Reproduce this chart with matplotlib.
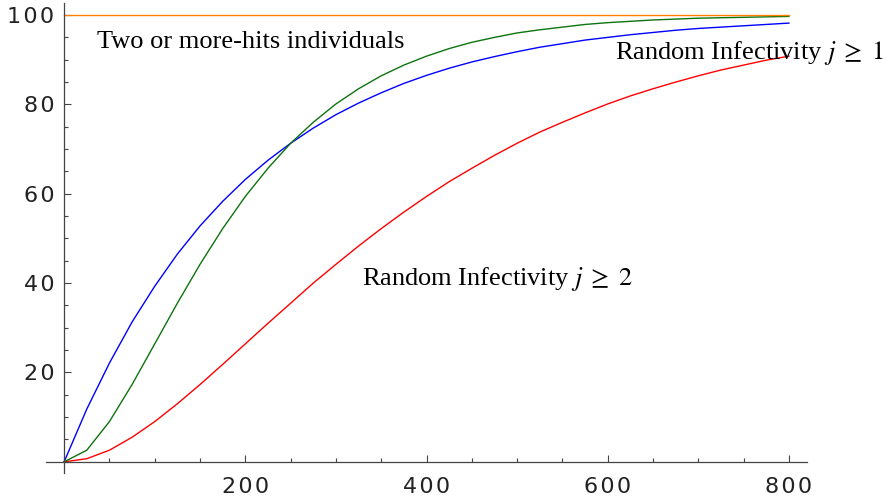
import matplotlib
matplotlib.use("Agg")
import matplotlib.pyplot as plt
from matplotlib.ticker import MultipleLocator, FixedLocator, FuncFormatter

# x sample positions (step 25 from 0 to 800)
x = [0, 25, 50, 75, 100, 125, 150, 175, 200, 225, 250, 275, 300, 325, 350, 375,
     400, 425, 450, 475, 500, 525, 550, 575, 600, 625, 650, 675, 700, 725, 750, 775, 800]

blue = [0, 11.8, 22.1, 31.3, 39.3, 46.5, 52.8, 58.3, 63.2, 67.5, 71.3, 74.7, 77.7, 80.3,
        82.6, 84.7, 86.5, 88.1, 89.5, 90.7, 91.8, 92.8, 93.6, 94.4, 95.0, 95.6, 96.1,
        96.6, 97.0, 97.3, 97.6, 97.9, 98.2]

red = [0, 0.7, 2.6, 5.5, 9.0, 13.0, 17.3, 21.8, 26.4, 31.0, 35.5, 40.0, 44.2, 48.3,
       52.2, 55.9, 59.4, 62.7, 65.7, 68.6, 71.3, 73.8, 76.0, 78.1, 80.1, 81.9, 83.5,
       85.0, 86.4, 87.7, 88.8, 89.9, 90.8]

green = [0, 2.6, 9.0, 17.3, 26.4, 35.5, 44.2, 52.2, 59.4, 65.7, 71.3, 76.0, 80.1, 83.5,
         86.4, 88.8, 90.8, 92.5, 93.9, 95.0, 96.0, 96.7, 97.3, 97.9, 98.3, 98.6, 98.9,
         99.1, 99.3, 99.4, 99.5, 99.6, 99.7]

orange = [100] * len(x)

x_ticks = [200, 400, 600, 800]
y_ticks = [20, 40, 60, 80, 100]

plt.rcParams['mathtext.fontset'] = 'stix'

fig = plt.figure(figsize=(8.86, 4.97), dpi=100)
ax = fig.add_axes([46/886, 24/497, (807-46)/886, (473-3)/497])
ax.set_xlim(-20, 820)
ax.set_ylim(-2.5, 102.7)

lw = 1.0
ax.plot(x, blue, color=(0, 0, 1), lw=lw)
ax.plot(x, red, color=(1, 0, 0), lw=lw)
ax.plot(x, green, color=(0.05, 0.45, 0.05), lw=lw)
ax.plot(x, orange, color=(1, 0.5, 0), lw=lw)

for s in ['top', 'right']:
    ax.spines[s].set_visible(False)
ax.spines['left'].set_position(('data', 0))
ax.spines['bottom'].set_position(('data', 0))
for s in ['left', 'bottom']:
    ax.spines[s].set_color('#444444')
    ax.spines[s].set_linewidth(0.9)

spaced = FuncFormatter(lambda v, p: '\u200a'.join(str(int(round(v)))))
ax.xaxis.set_major_locator(FixedLocator(x_ticks))
ax.xaxis.set_minor_locator(MultipleLocator(50))
ax.yaxis.set_major_locator(FixedLocator(y_ticks))
ax.yaxis.set_minor_locator(MultipleLocator(5))
ax.xaxis.set_major_formatter(spaced)
ax.yaxis.set_major_formatter(spaced)

ax.tick_params(which='both', direction='in', color='#444444', width=0.8)
ax.tick_params(which='major', length=5)
ax.tick_params(which='minor', length=3)
ax.tick_params(axis='x', which='major', pad=11)
ax.tick_params(axis='y', which='major', pad=7)
for lab in ax.get_xticklabels() + ax.get_yticklabels():
    lab.set_fontfamily('DejaVu Sans')
    lab.set_fontsize(16)
    lab.set_color('#222222')

tfont = dict(family='Liberation Serif', size=19, color='black')
ax.text(36, 94.0, "Two or more-hits individuals", va='center', ha='left', **tfont)
ax.text(608, 91.4, r"Random Infectivity $j\;\geq\;1$", va='center', ha='left', **tfont)
ax.text(329, 41.0, r"Random Infectivity $j\;\geq\;2$", va='center', ha='left', **tfont)

fig.savefig("out.png", dpi=100)
